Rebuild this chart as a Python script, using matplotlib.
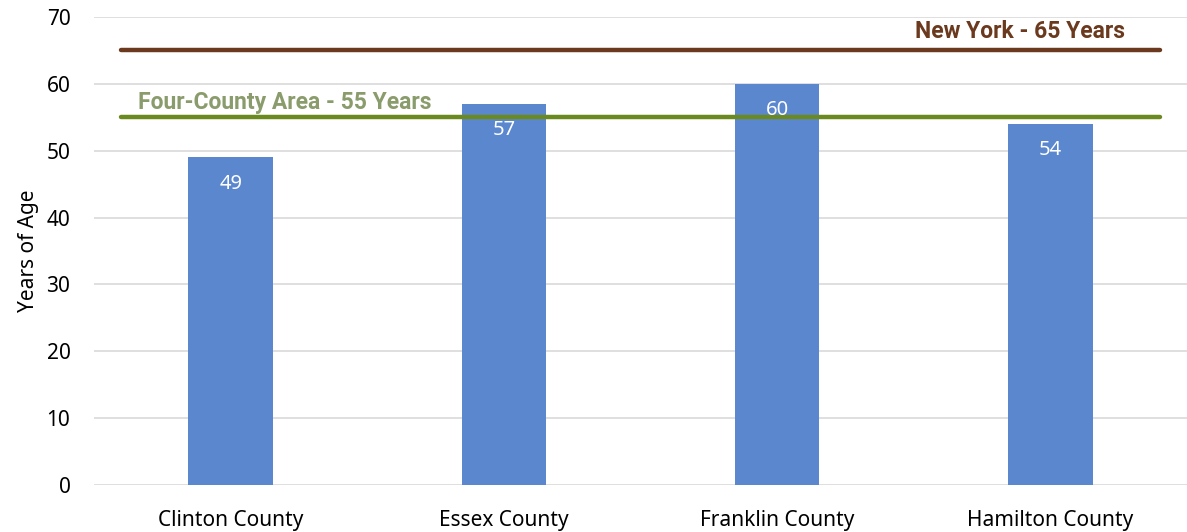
import matplotlib.pyplot as plt

plt.rcParams['font.family'] = ['Noto Sans', 'DejaVu Sans']

counties = ["Clinton County", "Essex County", "Franklin County", "Hamilton County"]
ages = [49, 57, 60, 54]
ny_age = 65
area_age = 55
ny_label = "New York - 65 Years"
area_label = "Four-County Area - 55 Years"
y_ticks = [0, 10, 20, 30, 40, 50, 60, 70]

fig = plt.figure(figsize=(11.87, 5.32), dpi=100)
ax = fig.add_axes([94 / 1187, 1 - 485 / 532, 1 - 94 / 1187, (485 - 17) / 532])

x = list(range(len(counties)))
ax.bar(x, ages, width=0.31, color="#5b87cf", zorder=2)
for xi, v in zip(x, ages):
    ax.annotate(f"{v}", (xi, v), xytext=(0, -19), textcoords="offset points",
                ha="center", va="center", color="white", fontsize=14.5, zorder=4)

ax.plot([-0.40, 3.40], [ny_age, ny_age], color="#6b3a1e", lw=3.2,
        solid_capstyle="round", zorder=3)
ax.plot([-0.40, 3.40], [area_age, area_age], color="#6a8a1f", lw=3.2,
        solid_capstyle="round", zorder=3)
bold_font = ['Roboto', 'DejaVu Sans']
ax.text(2.89, ny_age + 1.1, ny_label, ha="center", va="bottom", family=bold_font,
        fontsize=16.5, fontweight="bold", color="#6b3a1e")
ax.text(-0.34, area_age + 0.5, area_label, ha="left", va="bottom", family=bold_font,
        fontsize=16.5, fontweight="bold", color="#8a9c6c")

ax.set_xlim(-0.5, 3.5)
ax.set_ylim(0, 70)
ax.set_yticks(y_ticks)
ax.set_xticks(x)
ax.set_xticklabels(counties, fontsize=15)
ax.tick_params(axis="y", labelsize=15, length=0, pad=17)
ax.tick_params(axis="x", length=0, pad=18)
ax.yaxis.grid(True, color="#d9d9d9", lw=1.2, zorder=0)
ax.set_axisbelow(True)
for s in ax.spines.values():
    s.set_visible(False)
ax.set_ylabel("Years of Age", fontsize=15)
ax.yaxis.set_label_coords(-0.05, 0.5)

fig.savefig("out.png", dpi=100)
